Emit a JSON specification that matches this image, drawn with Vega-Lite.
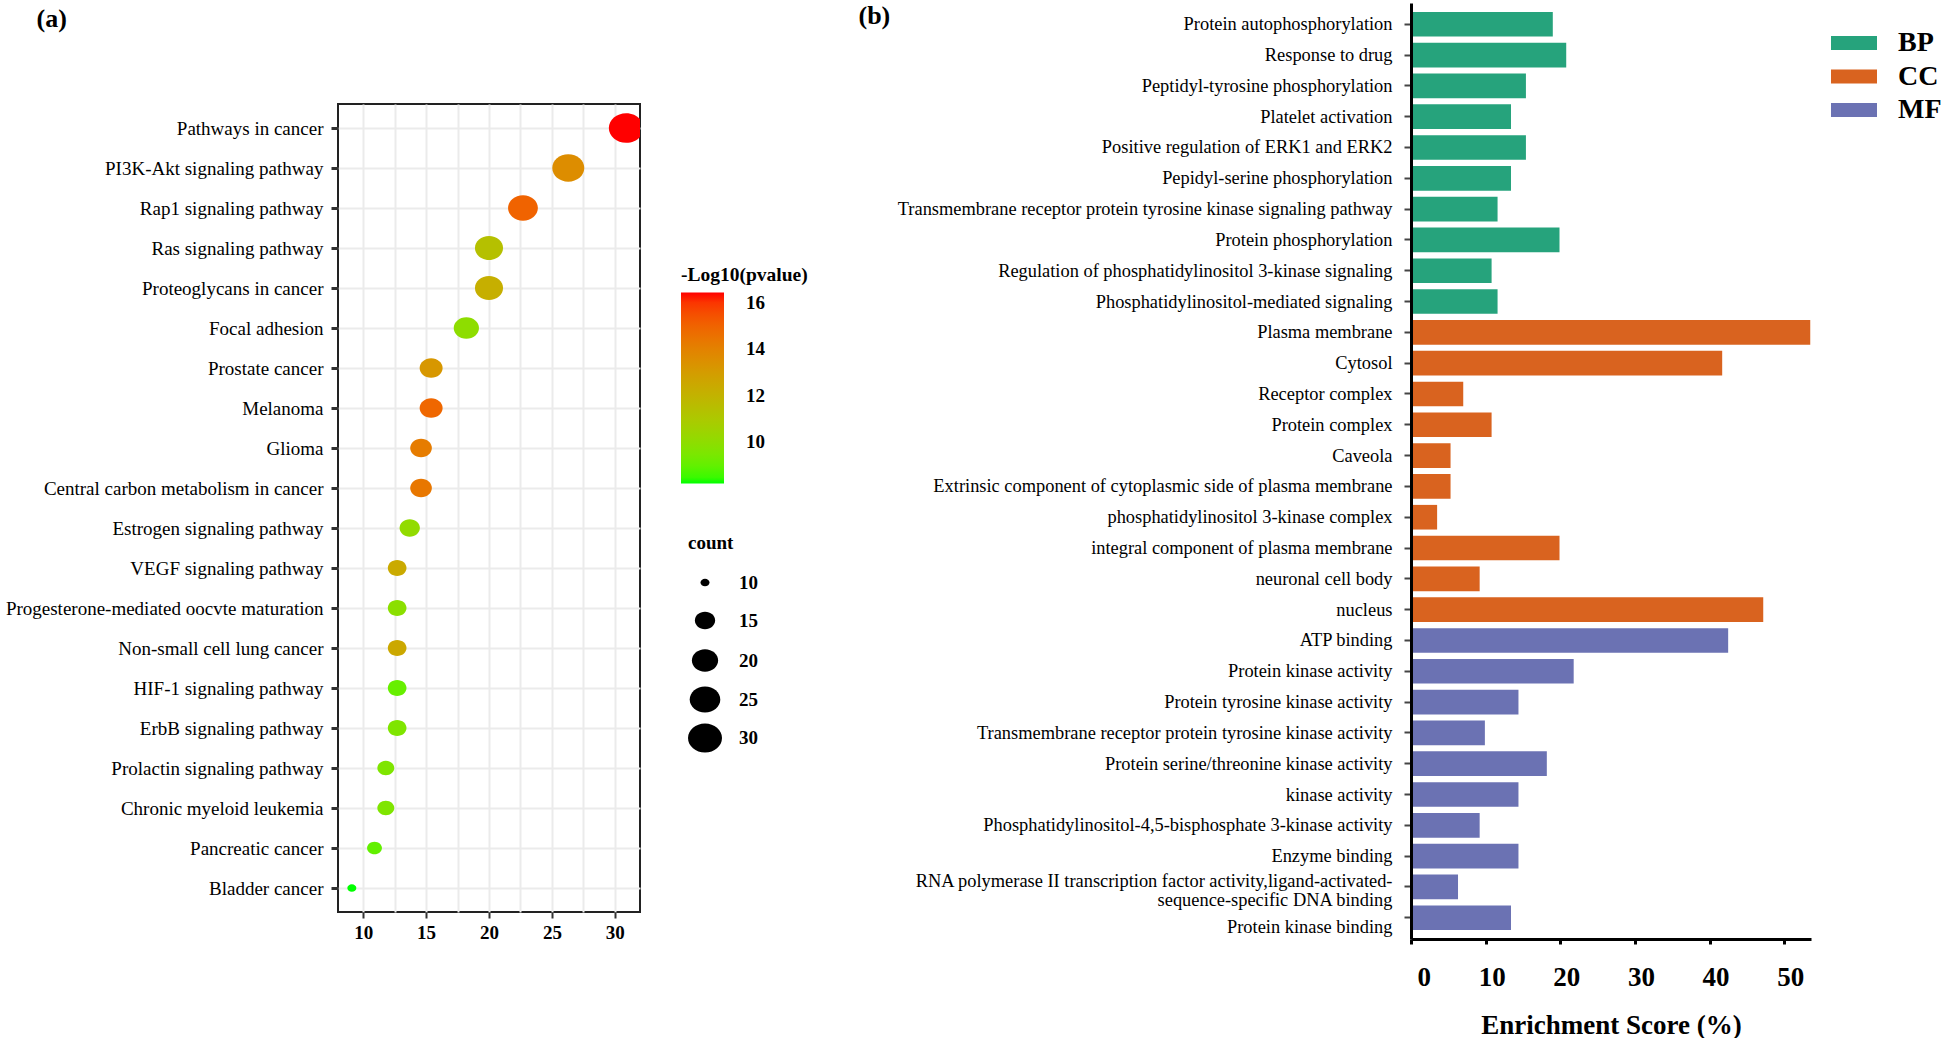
{
  "$schema": "https://vega.github.io/schema/vega-lite/v6.json",
  "background": "white",
  "padding": {"left": 4, "top": 2, "right": 0, "bottom": 0},
  "spacing": 50,
  "config": {
    "view": {"stroke": null},
    "font": "Liberation Serif",
    "axis": {"labelFont": "Liberation Serif", "titleFont": "Liberation Serif", "labelColor": "black", "titleColor": "black"},
    "legend": {"labelFont": "Liberation Serif", "titleFont": "Liberation Serif", "labelColor": "black", "titleColor": "black"}
  },
  "hconcat": [
    {
      "spacing": 0,
      "vconcat": [
        {
          "width": 302,
          "height": 1,
          "data": {"values": []},
          "mark": "point"
        },
        {
          "width": 302,
          "height": 808,
          "view": {"stroke": "#222", "strokeWidth": 2},
          "data": {"values": [
            {"term": "Pathways in cancer", "ratio": 30.9, "pval": 16.43, "count": 31},
            {"term": "PI3K-Akt signaling pathway", "ratio": 26.3, "pval": 13.6, "count": 27},
            {"term": "Rap1 signaling pathway", "ratio": 22.7, "pval": 15.0, "count": 24},
            {"term": "Ras signaling pathway", "ratio": 20.0, "pval": 11.4, "count": 22},
            {"term": "Proteoglycans in cancer", "ratio": 20.0, "pval": 12.2, "count": 22},
            {"term": "Focal adhesion", "ratio": 18.2, "pval": 10.0, "count": 19},
            {"term": "Prostate cancer", "ratio": 15.4, "pval": 13.2, "count": 17},
            {"term": "Melanoma", "ratio": 15.4, "pval": 14.9, "count": 17},
            {"term": "Glioma", "ratio": 14.6, "pval": 14.2, "count": 16},
            {"term": "Central carbon metabolism in cancer", "ratio": 14.6, "pval": 14.4, "count": 16},
            {"term": "Estrogen signaling pathway", "ratio": 13.7, "pval": 10.1, "count": 15},
            {"term": "VEGF signaling pathway", "ratio": 12.7, "pval": 12.4, "count": 14},
            {"term": "Progesterone-mediated oocvte maturation", "ratio": 12.7, "pval": 9.9, "count": 14},
            {"term": "Non-small cell lung cancer", "ratio": 12.7, "pval": 12.5, "count": 14},
            {"term": "HIF-1 signaling pathway", "ratio": 12.7, "pval": 9.1, "count": 14},
            {"term": "ErbB signaling pathway", "ratio": 12.7, "pval": 9.6, "count": 14},
            {"term": "Prolactin signaling pathway", "ratio": 11.8, "pval": 9.6, "count": 13},
            {"term": "Chronic myeloid leukemia", "ratio": 11.8, "pval": 9.6, "count": 13},
            {"term": "Pancreatic cancer", "ratio": 10.9, "pval": 9.0, "count": 12},
            {"term": "Bladder cancer", "ratio": 9.1, "pval": 8.24, "count": 10}
          ]},
          "mark": {"type": "point", "filled": true, "opacity": 1, "color": "black", "clip": true,
                   "shape": "M-1,0 A1,0.855 0 1,0 1,0 A1,0.855 0 1,0 -1,0 Z"},
          "encoding": {
            "y": {
              "field": "term", "type": "nominal", "sort": null,
              "scale": {"type": "point", "padding": 0.6},
              "axis": {
                "title": "(a)", "titleAngle": 0, "titleAlign": "left", "titleBaseline": "top",
                "titleX": -302, "titleY": -99, "titleFontSize": 26, "titleFontWeight": "bold",
                "labelFontSize": 19, "labelPadding": 8, "labelLimit": 1000,
                "tickSize": 7, "tickWidth": 3, "tickColor": "#333",
                "domain": false, "grid": true, "gridColor": "#ebebeb", "gridWidth": 2
              }
            },
            "x": {
              "field": "ratio", "type": "quantitative",
              "scale": {"domain": [8, 32], "nice": false, "zero": false},
              "axis": {
                "title": null,
                "values": [10, 12.5, 15, 17.5, 20, 22.5, 25, 27.5, 30],
                "labelExpr": "datum.value % 5 == 0 ? datum.label : ''",
                "tickOpacity": {"condition": {"test": "datum.value % 5 != 0", "value": 0}, "value": 1},
                "tickSize": 6, "tickWidth": 2, "tickColor": "#333",
                "domain": false, "grid": true, "gridColor": "#ebebeb", "gridWidth": 2,
                "labelFontSize": 19, "labelFontWeight": "bold", "labelPadding": 5
              }
            },
            "color": {
              "field": "pval", "type": "quantitative",
              "scale": {"domain": [8.24, 16.43], "range": ["#00ff00", "#ff0000"], "interpolate": "lab"},
              "legend": {
                "orient": "none", "legendX": 343, "legendY": 263, "direction": "vertical",
                "title": "-Log10(pvalue)", "titleFontSize": 19.5, "titleFontWeight": "bold", "titlePadding": 7,
                "gradientLength": 191, "gradientThickness": 43, "gradientStrokeWidth": 0,
                "values": [10, 12, 14, 16],
                "labelFontSize": 19, "labelFontWeight": "bold", "labelOffset": 22
              }
            },
            "size": {
              "field": "count", "type": "quantitative",
              "scale": {"type": "sqrt", "domain": [10, 30], "range": [81, 1156]},
              "legend": {
                "orient": "none", "legendX": 350, "legendY": 531,
                "title": "count", "titleFontSize": 19, "titleFontWeight": "bold", "titlePadding": 20,
                "values": [10, 15, 20, 25, 30], "gridAlign": "all",
                "symbolFillColor": "black", "symbolStrokeWidth": 0,
                "labelFontSize": 19, "labelFontWeight": "bold", "labelOffset": 17, "rowPadding": 5
              }
            }
          }
        }
      ]
    },
    {
      "width": 400,
      "height": 936,
      "data": {"values": [
        {"term": "Protein autophosphorylation", "cat": "BP", "score": 19.0},
        {"term": "Response to drug", "cat": "BP", "score": 20.8},
        {"term": "Peptidyl-tyrosine phosphorylation", "cat": "BP", "score": 15.4},
        {"term": "Platelet activation", "cat": "BP", "score": 13.4},
        {"term": "Positive regulation of ERK1 and ERK2", "cat": "BP", "score": 15.4},
        {"term": "Pepidyl-serine phosphorylation", "cat": "BP", "score": 13.4},
        {"term": "Transmembrane receptor protein tyrosine kinase signaling pathway", "cat": "BP", "score": 11.6},
        {"term": "Protein phosphorylation", "cat": "BP", "score": 19.9},
        {"term": "Regulation of phosphatidylinositol 3-kinase signaling", "cat": "BP", "score": 10.8},
        {"term": "Phosphatidylinositol-mediated signaling", "cat": "BP", "score": 11.6},
        {"term": "Plasma membrane", "cat": "CC", "score": 53.5},
        {"term": "Cytosol", "cat": "CC", "score": 41.7},
        {"term": "Receptor complex", "cat": "CC", "score": 7.0},
        {"term": "Protein complex", "cat": "CC", "score": 10.8},
        {"term": "Caveola", "cat": "CC", "score": 5.3},
        {"term": "Extrinsic component of cytoplasmic side of plasma membrane", "cat": "CC", "score": 5.3},
        {"term": "phosphatidylinositol 3-kinase complex", "cat": "CC", "score": 3.5},
        {"term": "integral component of plasma membrane", "cat": "CC", "score": 19.9},
        {"term": "neuronal cell body", "cat": "CC", "score": 9.2},
        {"term": "nucleus", "cat": "CC", "score": 47.2},
        {"term": "ATP binding", "cat": "MF", "score": 42.5},
        {"term": "Protein kinase activity", "cat": "MF", "score": 21.8},
        {"term": "Protein tyrosine kinase activity", "cat": "MF", "score": 14.4},
        {"term": "Transmembrane receptor protein tyrosine kinase activity", "cat": "MF", "score": 9.9},
        {"term": "Protein serine/threonine kinase activity", "cat": "MF", "score": 18.2},
        {"term": "kinase activity", "cat": "MF", "score": 14.4},
        {"term": "Phosphatidylinositol-4,5-bisphosphate 3-kinase activity", "cat": "MF", "score": 9.2},
        {"term": "Enzyme binding", "cat": "MF", "score": 14.4},
        {"term": "RNA polymerase II transcription factor activity,ligand-activated-|sequence-specific DNA binding", "cat": "MF", "score": 6.3},
        {"term": "Protein kinase binding", "cat": "MF", "score": 13.4}
      ]},
      "mark": {"type": "bar"},
      "encoding": {
        "y": {
          "field": "term", "type": "nominal", "sort": null,
          "scale": {"paddingInner": 0.2, "paddingOuter": 0.29},
          "axis": {
            "title": "(b)", "titleAngle": 0, "titleAlign": "left", "titleBaseline": "top",
            "titleX": -553, "titleY": -1, "titleFontSize": 26, "titleFontWeight": "bold",
            "labelFontSize": 18.4, "labelPadding": 12, "labelLimit": 1000,
            "labelExpr": "split(datum.label, '|')", "labelLineHeight": 19,
            "labelBaseline": {
              "condition": [
                {"test": "datum.value == 'RNA polymerase II transcription factor activity,ligand-activated-|sequence-specific DNA binding'", "value": "alphabetic"},
                {"test": "datum.value == 'Protein kinase binding'", "value": "top"}
              ],
              "value": "middle"
            },
            "tickSize": 7, "tickWidth": 2, "tickColor": "#444",
            "domainColor": "black", "domainWidth": 3, "zindex": 1
          }
        },
        "x": {
          "field": "score", "type": "quantitative",
          "scale": {"domain": [0, 53.6], "nice": false},
          "axis": {
            "title": "Enrichment Score (%)", "values": [0, 10, 20, 30, 40, 50], "grid": false,
            "domainColor": "black", "domainWidth": 3, "tickColor": "black", "tickWidth": 3, "tickSize": 5,
            "labelFontSize": 27, "labelFontWeight": "bold", "labelPadding": 20, "labelOffset": 6,
            "titleFontSize": 27, "titleFontWeight": "bold", "titlePadding": 22, "zindex": 1
          }
        },
        "color": {
          "field": "cat", "type": "nominal",
          "scale": {"domain": ["BP", "CC", "MF"], "range": ["#26a37c", "#d9631f", "#6b72b3"]},
          "legend": {
            "orient": "none", "legendX": 429, "legendY": 26, "title": null,
            "symbolType": "M-1.643,-0.5 L1.643,-0.5 L1.643,0.5 L-1.643,0.5 Z", "symbolSize": 784,
            "symbolStrokeWidth": 0,
            "labelFontSize": 28, "labelFontWeight": "bold", "labelOffset": 30, "rowPadding": 5.5
          }
        }
      }
    }
  ]
}
